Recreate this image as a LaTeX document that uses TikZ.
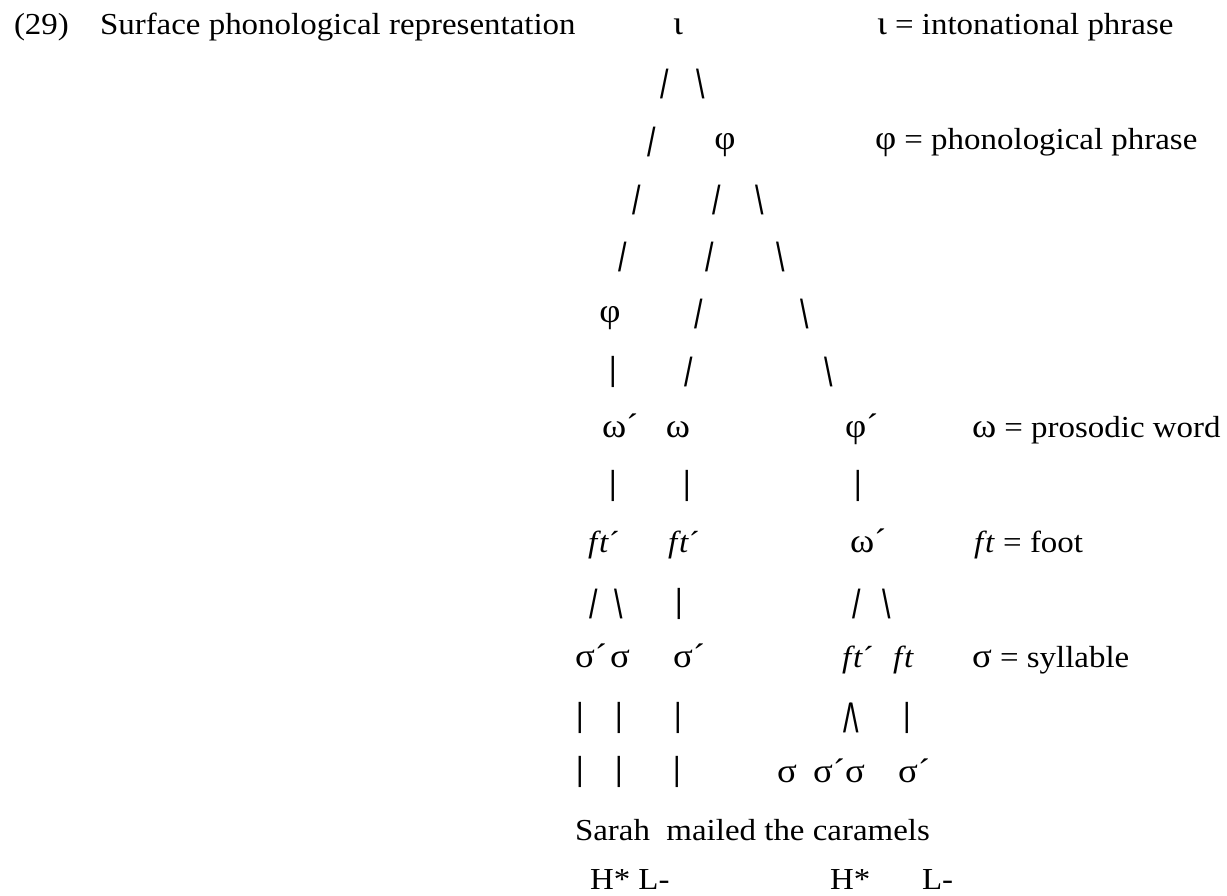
\documentclass[tikz,border=0pt]{standalone}
\usepackage{fontspec}
\setmainfont{Liberation Serif}[FakeStretch=1.08]
\newfontfamily\slfont{Liberation Sans}
\newcommand\gk[1]{{\fontsize{34}{36}\selectfont #1}}
\newcommand\ftx{\textit{f\kern2pt t}}
\newcommand\fs{\scalebox{1.05}[1.4]{/}}
\newcommand\bs{\scalebox{1.05}[1.4]{\textbackslash}}
\newcommand\br{\scalebox{1.0}[1.15]{|}}
\begin{document}
\begin{tikzpicture}[x=1pt,y=-1pt,
  every node/.style={inner sep=0pt,outer sep=0pt,font=\fontsize{30.5}{36}\selectfont},
  tk/.style={anchor=base},
  tl/.style={anchor=base west},
  sl/.style={anchor=center,font=\slfont\fontsize{29}{34}\selectfont}]
\useasboundingbox (0,0) rectangle (1227,896);
\fill[white] (0,0) rectangle (1227,896);
% row 0
\node[tl] (num) at (14,35) {(29)};
\node[tl] (title) at (100,35) {Surface phonological representation};
\node[tk] (iota) at (678,35) {\gk{ι}};
\node[tl] (legiota) at (877,35) {\gk{ι} = intonational phrase};
% row 1
\node[sl] (s1a) at (665,84) {\fs};
\node[sl] (s1b) at (701,84) {\bs};
% row 2
\node[sl] (s2a) at (652,142) {\fs};
\node[tk] (phiA) at (725,150) {\gk{φ}};
\node[tl] (legphi) at (875,150) {\gk{φ} = phonological phrase};
% row 3
\node[sl] (s3a) at (636.5,200) {\fs};
\node[sl] (s3b) at (716.5,200) {\fs};
\node[sl] (s3c) at (760,200) {\bs};
% row 4
\node[sl] (s4a) at (623,256.5) {\fs};
\node[sl] (s4b) at (709.5,256.5) {\fs};
\node[sl] (s4c) at (781,256.5) {\bs};
% row 5
\node[tk] (phiB) at (610,322.5) {\gk{φ}};
\node[sl] (s5b) at (699,313.5) {\fs};
\node[sl] (s5c) at (805,313.5) {\bs};
% row 6
\node[sl] (s6a) at (613,371.5) {\br};
\node[sl] (s6b) at (689,371.5) {\fs};
\node[sl] (s6c) at (829,371.5) {\bs};
% row 7
\node[tl] (omA) at (602,437.5) {\gk{ω´}};
\node[tk] (omB) at (678,437.5) {\gk{ω}};
\node[tl] (phiC) at (845,437.5) {\gk{φ´}};
\node[tl] (legom) at (972,437.5) {\gk{ω} = prosodic word};
% row 8
\node[sl] (s8a) at (613,486) {\br};
\node[sl] (s8b) at (687,486) {\br};
\node[sl] (s8c) at (858,486) {\br};
% row 9
\node[tl] (ftA) at (588,552.5) {\ftx´};
\node[tl] (ftB) at (668,552.5) {\ftx´};
\node[tl] (omC) at (850,552.5) {\gk{ω´}};
\node[tl] (legft) at (974,552.5) {\ftx{} = foot};
% row 10
\node[sl] (s10a) at (594,603.5) {\fs};
\node[sl] (s10b) at (619,603.5) {\bs};
\node[sl] (s10c) at (679,603.5) {\br};
\node[sl] (s10d) at (857,603.5) {\fs};
\node[sl] (s10e) at (887,603.5) {\bs};
% row 11
\node[tl] (sgA) at (575,667.5) {\gk{σ´}};
\node[tk] (sgB) at (620,667.5) {\gk{σ}};
\node[tl] (sgC) at (673,667.5) {\gk{σ´}};
\node[tl] (ftC) at (842,667.5) {\ftx´};
\node[tl] (ftD) at (893,667.5) {\ftx};
\node[tl] (legsg) at (972,667.5) {\gk{σ} = syllable};
% row 12
\node[sl] (s12a) at (580,717.5) {\br};
\node[sl] (s12b) at (619,717.5) {\br};
\node[sl] (s12c) at (678,717.5) {\br};
\node[sl] (s12d) at (851,717.5) {\fs\kern-1pt\bs};
\node[sl] (s12e) at (907,717.5) {\br};
% row 13
\node[sl] (s13a) at (580,772) {\br};
\node[sl] (s13b) at (619,772) {\br};
\node[sl] (s13c) at (677,772) {\br};
\node[tl] (sgD) at (777,782.5) {\gk{σ}};
\node[tl] (sgE) at (813,782.5) {\gk{σ´σ}};
\node[tl] (sgF) at (898,782.5) {\gk{σ´}};
% row 14
\node[tl] (words) at (575,840) {Sarah\ \ mailed the caramels};
% row 15
\node[tl] (tA) at (590,889) {H* L-};
\node[tl] (tB) at (830,889) {H*};
\node[tl] (tC) at (922,889) {L-};
\end{tikzpicture}
\end{document}
